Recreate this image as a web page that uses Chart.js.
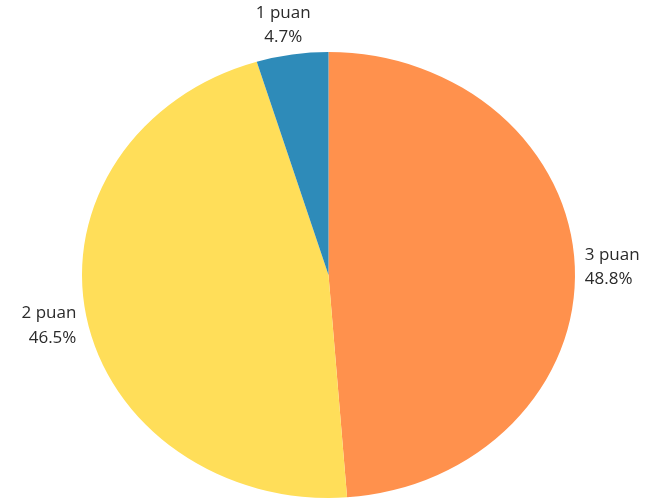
<!DOCTYPE html>
<html>
<head>
<meta charset="utf-8">
<script src="https://cdn.jsdelivr.net/npm/chart.js@4/dist/chart.umd.min.js"></script>
<style>
  html, body { margin: 0; padding: 0; background: #fff; }
  #wrap { width: 645px; height: 501px; position: relative; }
</style>
</head>
<body>
<div id="wrap"><canvas id="pie"></canvas></div>
<script>
  // slices go clockwise from 12 o'clock
  const labels = ["3 puan", "2 puan", "1 puan"];
  const values = [48.8, 46.5, 4.7];
  const colors = ["#FF914D", "#FFDE59", "#2E8BB9"];

  const SX = 246.5 / 223; // pie is a bit wider than tall
  const GAP = 10;

  // stretch the arcs horizontally around the pie centre
  const ellipse = {
    id: "ellipse",
    beforeDatasetsDraw(chart) {
      const arc = chart.getDatasetMeta(0).data[0];
      const ctx = chart.ctx;
      ctx.save();
      ctx.translate(arc.x, arc.y);
      ctx.scale(SX, 1);
      ctx.translate(-arc.x, -arc.y);
    },
    afterDatasetsDraw(chart) {
      chart.ctx.restore();
    },
  };

  // two-line outside labels: name + percent
  const outsideLabels = {
    id: "outsideLabels",
    afterDraw(chart) {
      const ctx = chart.ctx;
      const total = values.reduce(function (a, b) { return a + b; }, 0);
      const lh = 24.5;
      ctx.save();
      ctx.font = "17px 'Open Sans', sans-serif";
      ctx.fillStyle = "#2a2a2a";
      chart.getDatasetMeta(0).data.forEach(function (arc, i) {
        const p = arc.getProps(["x", "y", "startAngle", "endAngle", "outerRadius"], true);
        const mid = (p.startAngle + p.endAngle) / 2;
        const c = Math.cos(mid), s = Math.sin(mid);
        const rx = p.outerRadius * SX;
        const lines = [labels[i], (values[i] / total * 100).toFixed(1) + "%"];
        let x, top;
        if (Math.abs(c) > 0.5) {
          ctx.textAlign = c > 0 ? "left" : "right";
          x = p.x + c * (rx + GAP);
          top = p.y + s * (p.outerRadius + 40) + 2 - lh;
        } else {
          ctx.textAlign = "center";
          x = p.x + c * (rx + GAP) * 1.2;
          const y = p.y + s * (p.outerRadius + GAP);
          top = s < 0 ? y - lh * 2 + 5 : y;
        }
        ctx.textBaseline = "middle";
        lines.forEach(function (t, k) {
          ctx.fillText(t, x, top + lh * k + lh / 2);
        });
      });
      ctx.restore();
    },
  };

  new Chart(document.getElementById("pie"), {
    type: "pie",
    data: {
      labels: labels,
      datasets: [{
        data: values,
        backgroundColor: colors,
        borderWidth: 0,
      }],
    },
    options: {
      responsive: true,
      maintainAspectRatio: false,
      animation: false,
      layout: { padding: { top: 52, bottom: 3, left: 100, right: 88 } },
      plugins: {
        legend: { display: false },
        tooltip: { enabled: false },
      },
    },
    plugins: [ellipse, outsideLabels],
  });
</script>
</body>
</html>
